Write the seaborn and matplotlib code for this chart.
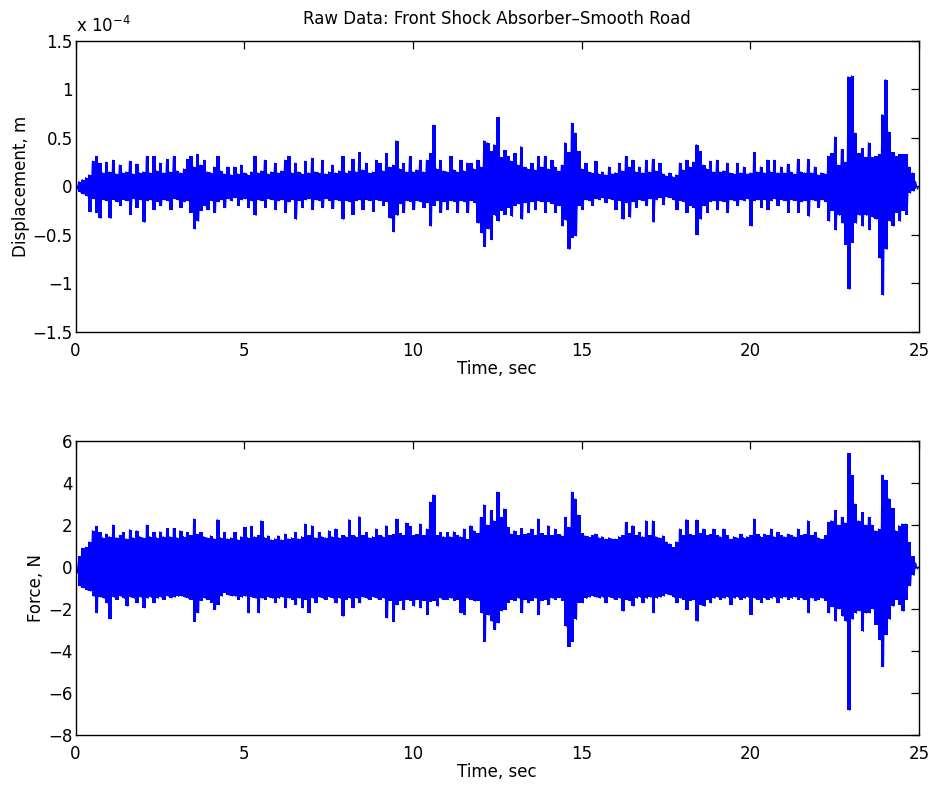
import numpy as np
import pandas as pd
import matplotlib
matplotlib.use('Agg')
import matplotlib.pyplot as plt
from matplotlib.ticker import FuncFormatter
import seaborn as sns

# Peak values, one row per second.
# Upper peaks sit at t = 0.0, 0.1, ... ; lower peaks half a step later (t = 0.05, 0.15, ...).
step = 0.1

# displacement, in units of 1e-4 m
disp_upper = [
    0.0, 0.05, 0.07, 0.09, 0.12, 0.26, 0.31, 0.24, 0.14, 0.25,
    0.15, 0.27, 0.13, 0.22, 0.14, 0.15, 0.26, 0.13, 0.23, 0.14,
    0.15, 0.31, 0.14, 0.31, 0.16, 0.24, 0.14, 0.28, 0.15, 0.31,
    0.16, 0.14, 0.18, 0.28, 0.31, 0.20, 0.33, 0.22, 0.27, 0.15,
    0.14, 0.20, 0.31, 0.16, 0.13, 0.20, 0.12, 0.20, 0.13, 0.22,
    0.14, 0.12, 0.15, 0.31, 0.14, 0.16, 0.27, 0.13, 0.15, 0.24,
    0.14, 0.16, 0.27, 0.31, 0.14, 0.24, 0.15, 0.13, 0.26, 0.14,
    0.29, 0.15, 0.14, 0.27, 0.13, 0.15, 0.22, 0.14, 0.16, 0.31,
    0.14, 0.16, 0.28, 0.15, 0.35, 0.17, 0.24, 0.14, 0.15, 0.27,
    0.24, 0.16, 0.34, 0.20, 0.22, 0.47, 0.18, 0.24, 0.15, 0.31,
    0.15, 0.17, 0.27, 0.15, 0.27, 0.34, 0.63, 0.18, 0.27, 0.16,
    0.15, 0.31, 0.17, 0.15, 0.27, 0.16, 0.24, 0.24, 0.18, 0.27,
    0.20, 0.47, 0.45, 0.36, 0.43, 0.71, 0.30, 0.37, 0.31, 0.26,
    0.34, 0.22, 0.41, 0.20, 0.18, 0.24, 0.17, 0.31, 0.20, 0.31,
    0.18, 0.27, 0.20, 0.16, 0.22, 0.45, 0.35, 0.65, 0.55, 0.36,
    0.18, 0.24, 0.15, 0.14, 0.26, 0.13, 0.15, 0.12, 0.20, 0.13,
    0.14, 0.24, 0.16, 0.31, 0.20, 0.27, 0.15, 0.20, 0.14, 0.27,
    0.15, 0.28, 0.16, 0.24, 0.13, 0.11, 0.14, 0.10, 0.12, 0.24,
    0.17, 0.27, 0.20, 0.25, 0.43, 0.36, 0.22, 0.18, 0.26, 0.15,
    0.27, 0.15, 0.16, 0.24, 0.14, 0.13, 0.24, 0.14, 0.20, 0.13,
    0.14, 0.35, 0.15, 0.20, 0.14, 0.27, 0.15, 0.27, 0.14, 0.20,
    0.14, 0.23, 0.15, 0.13, 0.28, 0.15, 0.14, 0.28, 0.14, 0.20,
    0.12, 0.14, 0.13, 0.31, 0.34, 0.51, 0.22, 0.38, 0.25, 1.13,
    1.14, 0.55, 0.34, 0.39, 0.30, 0.45, 0.30, 0.31, 0.33, 0.74,
    1.10, 0.56, 0.35, 0.31, 0.33, 0.33, 0.33, 0.20, 0.14, 0.05,
    0.0,
]
disp_lower = [
    -0.03, -0.06, -0.08, -0.10, -0.26, -0.13, -0.27, -0.33, -0.14, -0.15,
    -0.33, -0.14, -0.16, -0.20, -0.14, -0.15, -0.29, -0.13, -0.22, -0.14,
    -0.37, -0.15, -0.14, -0.24, -0.16, -0.20, -0.14, -0.15, -0.24, -0.13,
    -0.14, -0.22, -0.16, -0.15, -0.27, -0.44, -0.36, -0.25, -0.20, -0.24,
    -0.15, -0.27, -0.16, -0.14, -0.22, -0.13, -0.15, -0.12, -0.20, -0.14,
    -0.13, -0.22, -0.15, -0.30, -0.14, -0.15, -0.22, -0.13, -0.14, -0.24,
    -0.15, -0.14, -0.27, -0.16, -0.14, -0.34, -0.15, -0.22, -0.14, -0.13,
    -0.24, -0.14, -0.15, -0.22, -0.13, -0.15, -0.23, -0.14, -0.15, -0.34,
    -0.15, -0.16, -0.29, -0.15, -0.14, -0.24, -0.14, -0.15, -0.26, -0.14,
    -0.15, -0.20, -0.16, -0.33, -0.47, -0.30, -0.18, -0.27, -0.15, -0.16,
    -0.24, -0.15, -0.16, -0.22, -0.17, -0.41, -0.20, -0.15, -0.27, -0.16,
    -0.24, -0.15, -0.16, -0.27, -0.15, -0.16, -0.27, -0.15, -0.17, -0.38,
    -0.48, -0.62, -0.44, -0.55, -0.30, -0.36, -0.25, -0.29, -0.22, -0.31,
    -0.20, -0.18, -0.34, -0.17, -0.27, -0.16, -0.24, -0.15, -0.16, -0.27,
    -0.16, -0.18, -0.27, -0.20, -0.41, -0.35, -0.65, -0.53, -0.51, -0.20,
    -0.24, -0.14, -0.15, -0.20, -0.13, -0.14, -0.12, -0.17, -0.13, -0.14,
    -0.24, -0.15, -0.34, -0.17, -0.32, -0.16, -0.22, -0.14, -0.15, -0.20,
    -0.13, -0.37, -0.14, -0.12, -0.19, -0.11, -0.12, -0.14, -0.24, -0.15,
    -0.16, -0.27, -0.20, -0.22, -0.50, -0.34, -0.20, -0.27, -0.16, -0.15,
    -0.24, -0.15, -0.16, -0.27, -0.14, -0.15, -0.20, -0.14, -0.15, -0.13,
    -0.41, -0.15, -0.14, -0.22, -0.14, -0.24, -0.15, -0.13, -0.20, -0.14,
    -0.15, -0.27, -0.14, -0.15, -0.27, -0.16, -0.15, -0.31, -0.14, -0.15,
    -0.22, -0.14, -0.16, -0.36, -0.25, -0.45, -0.30, -0.38, -0.60, -1.06,
    -0.58, -0.38, -0.30, -0.41, -0.30, -0.45, -0.32, -0.34, -0.74, -1.12,
    -0.65, -0.36, -0.41, -0.27, -0.36, -0.25, -0.29, -0.07, -0.05, -0.03,
]

# force, N
force_upper = [
    0.0, 0.5, 0.9, 0.95, 1.2, 1.73, 1.94, 1.65, 1.4, 1.57,
    1.45, 2.0, 1.4, 1.5, 1.65, 1.35, 1.78, 1.4, 1.73, 1.45,
    1.4, 2.0, 1.45, 1.65, 1.4, 1.68, 1.45, 1.84, 1.45, 1.84,
    1.4, 1.73, 1.45, 1.65, 1.5, 2.29, 1.55, 1.65, 1.45, 1.4,
    1.49, 1.35, 2.26, 1.4, 1.65, 1.35, 1.4, 1.65, 1.3, 1.45,
    1.89, 1.4, 1.94, 1.45, 1.5, 2.2, 1.4, 1.49, 1.3, 1.35,
    1.49, 1.3, 1.57, 1.35, 1.4, 1.65, 1.35, 1.45, 2.05, 1.5,
    1.97, 1.4, 1.65, 1.45, 1.4, 1.73, 1.45, 1.81, 1.4, 1.5,
    1.45, 2.26, 1.5, 1.45, 2.4, 1.5, 1.65, 1.4, 1.45, 1.81,
    1.5, 1.45, 1.97, 1.5, 1.55, 2.29, 1.6, 1.5, 2.1, 1.94,
    1.5, 1.55, 2.05, 1.5, 1.81, 3.09, 3.44, 1.5, 1.65, 1.45,
    1.65, 1.45, 1.68, 1.5, 1.45, 1.81, 1.33, 1.97, 1.73, 1.6,
    2.37, 2.96, 2.0, 2.69, 2.2, 3.57, 2.37, 2.77, 1.9, 1.57,
    1.73, 1.5, 1.84, 1.55, 1.6, 1.81, 1.5, 2.29, 1.6, 1.5,
    1.97, 1.5, 1.81, 1.55, 1.49, 2.37, 1.9, 3.57, 3.25, 2.48,
    1.6, 1.49, 1.45, 1.5, 1.57, 1.4, 1.45, 1.33, 1.4, 1.35,
    1.33, 1.45, 1.5, 2.13, 1.6, 1.97, 1.5, 1.65, 1.45, 2.2,
    1.5, 2.2, 1.45, 1.4, 1.49, 1.2, 1.1, 0.93, 1.2, 1.81,
    1.5, 2.26, 1.55, 1.5, 2.24, 1.6, 1.81, 1.5, 1.55, 1.81,
    1.5, 1.45, 1.81, 1.5, 1.33, 1.45, 1.4, 1.57, 1.4, 1.45,
    1.5, 2.29, 1.55, 1.45, 1.57, 1.5, 1.81, 1.45, 1.65, 1.5,
    1.45, 1.57, 1.5, 1.45, 1.81, 1.5, 1.55, 2.2, 1.5, 1.65,
    1.4, 1.33, 1.5, 2.13, 2.2, 2.69, 2.0, 2.37, 2.1, 5.41,
    4.37, 3.0, 2.2, 2.6, 2.0, 2.37, 2.0, 1.73, 1.81, 4.37,
    4.13, 3.25, 2.8, 1.73, 1.97, 2.05, 2.05, 1.17, 0.5, 0.2,
    0.0,
]
force_lower = [
    -0.3, -0.9, -1.0, -1.1, -1.15, -1.4, -2.19, -1.45, -1.5, -1.71,
    -2.48, -1.45, -1.55, -1.4, -1.5, -1.87, -1.45, -1.5, -1.71, -1.45,
    -1.95, -1.5, -1.45, -1.71, -1.5, -1.45, -1.55, -1.4, -1.47, -1.45,
    -1.4, -1.39, -1.45, -1.5, -1.55, -2.6, -2.19, -1.6, -1.5, -1.55,
    -1.7, -2.03, -1.8, -1.4, -1.23, -1.35, -1.39, -1.4, -1.55, -1.45,
    -1.4, -2.19, -1.45, -1.5, -2.19, -1.5, -1.55, -1.45, -1.5, -1.71,
    -1.5, -1.45, -1.95, -1.5, -1.55, -1.79, -1.5, -1.95, -1.55, -2.19,
    -1.5, -1.71, -1.45, -1.5, -1.55, -1.45, -1.5, -1.71, -1.5, -2.35,
    -1.55, -1.5, -1.95, -1.5, -1.71, -1.45, -1.5, -1.55, -1.45, -1.5,
    -1.55, -1.5, -2.43, -1.6, -2.6, -1.8, -1.6, -2.03, -1.55, -1.6,
    -1.87, -1.55, -1.95, -1.6, -2.27, -1.65, -1.6, -1.87, -1.5, -1.55,
    -1.55, -1.5, -1.6, -1.55, -2.19, -2.27, -1.5, -1.55, -1.63, -1.6,
    -2.19, -3.55, -2.3, -2.59, -2.99, -2.67, -2.1, -2.03, -1.7, -1.55,
    -1.6, -1.5, -2.19, -1.55, -1.71, -1.6, -1.5, -2.27, -1.6, -1.55,
    -1.79, -1.5, -1.55, -1.47, -1.6, -2.83, -3.79, -3.55, -2.5, -1.7,
    -1.71, -1.5, -1.45, -1.39, -1.45, -1.5, -1.45, -1.71, -1.45, -1.5,
    -1.55, -1.5, -2.11, -1.55, -1.6, -1.87, -1.5, -1.45, -1.71, -1.5,
    -1.45, -2.19, -1.5, -1.45, -1.39, -1.3, -1.35, -1.45, -1.71, -1.5,
    -1.55, -2.03, -1.6, -1.55, -2.59, -1.8, -1.87, -1.55, -1.71, -1.5,
    -1.45, -1.55, -1.5, -1.45, -1.79, -1.5, -1.45, -1.55, -1.5, -1.45,
    -2.27, -1.5, -1.55, -1.71, -1.5, -1.55, -1.5, -1.45, -1.71, -1.5,
    -1.45, -1.55, -1.5, -1.45, -1.55, -1.5, -1.55, -2.19, -1.5, -1.6,
    -1.55, -1.5, -1.6, -2.19, -1.9, -2.59, -2.0, -2.35, -2.59, -6.83,
    -2.5, -2.2, -2.1, -3.07, -2.2, -2.19, -2.0, -2.75, -3.47, -4.75,
    -3.23, -2.5, -1.87, -1.55, -1.8, -2.11, -1.55, -0.9, -0.4, -0.1,
]

x_ticks = [0, 5, 10, 15, 20, 25]
disp_ticks = [-1.5, -1, -0.5, 0, 0.5, 1, 1.5]
force_ticks = [-8, -6, -4, -2, 0, 2, 4, 6]


def trace(upper, lower, scale=1.0):
    # interleave upper and lower peaks into one time series
    upper = np.asarray(upper, dtype=float)
    lower = np.asarray(lower, dtype=float)
    t = np.empty(len(upper) + len(lower))
    y = np.empty_like(t)
    t[0::2] = np.arange(len(upper)) * step
    t[1::2] = np.arange(len(lower)) * step + step / 2
    y[0::2] = upper
    y[1::2] = lower
    return pd.DataFrame({'time': t, 'value': y * scale})


def band(upper, lower, scale=1.0):
    # the dense part of the signal: each 0.1 s slot spans its lower to upper peak
    n = len(lower)
    t = np.arange(n) * step + step / 4
    return t, np.asarray(lower[:n]) * scale, np.asarray(upper[:n]) * scale


sns.set_style('white')
plt.rcParams['font.family'] = ['DejaVu Sans']
plt.rcParams['font.size'] = 12
plt.rcParams['path.simplify'] = False
for key in ('text.color', 'axes.labelcolor', 'xtick.color', 'ytick.color'):
    plt.rcParams[key] = 'black'

disp = trace(disp_upper, disp_lower, 1e-4)
force = trace(force_upper, force_lower)

fig = plt.figure(figsize=(9.31, 7.92), dpi=100)
ax1 = fig.add_axes([0.0811, 0.5808, 0.906, 0.3678])
ax2 = fig.add_axes([0.0811, 0.0720, 0.906, 0.3712])

for ax, df, (up, lo, sc) in ((ax1, disp, (disp_upper, disp_lower, 1e-4)),
                             (ax2, force, (force_upper, force_lower, 1.0))):
    bt, blo, bup = band(up, lo, sc)
    ax.fill_between(bt, blo, bup, step='mid', color='#0000ff', linewidth=0)
    sns.lineplot(data=df, x='time', y='value', ax=ax, color='#0000ff',
                 linewidth=0.8, estimator=None, sort=False)
    ax.set_xlim(0, 25)
    ax.set_xticks(x_ticks)
    ax.set_xlabel('Time, sec', labelpad=0)
    for side in ax.spines.values():
        side.set_visible(True)
        side.set_color('black')
        side.set_linewidth(1.0)
    ax.tick_params(direction='in', top=True, right=True, length=6,
                   width=0.9, colors='black', labelsize=12)
    ax.tick_params(axis='x', pad=7)
    ax.tick_params(axis='y', pad=2)

ax1.set_ylim(-1.5e-4, 1.5e-4)
ax1.set_yticks([v * 1e-4 for v in disp_ticks])
ax1.yaxis.set_major_formatter(
    FuncFormatter(lambda v, p: f'{v * 1e4:g}'.replace('-', '\u2212')))
ax1.set_ylabel('Displacement, m', labelpad=1.5)
ax1.text(0.0, 1.03, 'x 10$^{\u2212\\mathregular{4}}$',
         transform=ax1.transAxes, ha='left', va='baseline', fontsize=12)
ax1.set_title('Raw Data: Front Shock Absorber\u2013Smooth Road', fontsize=12, pad=12)

ax2.set_ylim(-8, 6)
ax2.set_yticks(force_ticks)
ax2.set_ylabel('Force, N', labelpad=2.5)

fig.savefig('out.png', dpi=100)
